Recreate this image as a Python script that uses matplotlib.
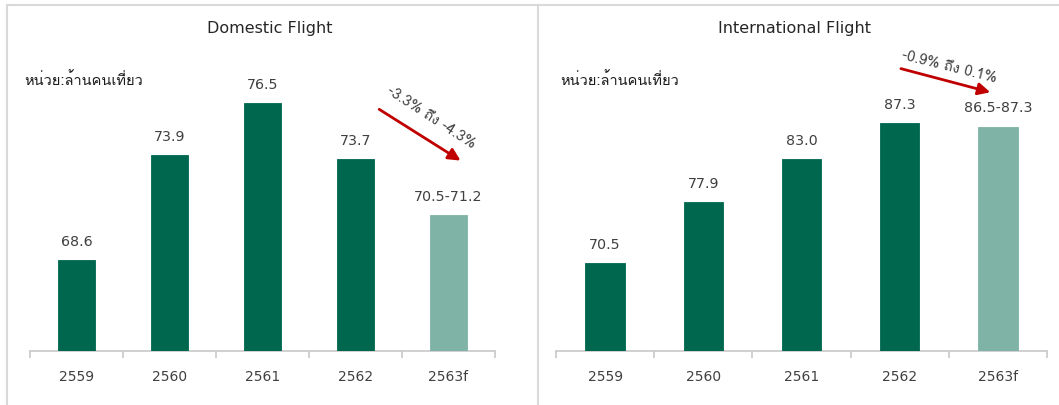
import matplotlib
matplotlib.use("Agg")
import matplotlib.pyplot as plt
from matplotlib import font_manager
from matplotlib.ft2font import FT2Font
from matplotlib.lines import Line2D

# ==========================================
# DATA
# ==========================================

years = ["2559", "2560", "2561", "2562", "2563f"]

domestic = [68.6, 73.9, 76.5, 73.7, 70.85]
domestic_labels = ["68.6", "73.9", "76.5", "73.7", "70.5-71.2"]

international = [70.5, 77.9, 83.0, 87.3, 86.9]
international_labels = ["70.5", "77.9", "83.0", "87.3", "86.5-87.3"]

dom_change = "-3.3% ถึง -4.3%"
int_change = "-0.9% ถึง 0.1%"
unit_text = "หน่วย:ล้านคนเที่ยว"

DARK = "#00674f"
LIGHT = "#7fb3a6"
RED = "#c00000"
TXT = "#404040"
GRID = "#c8c8c8"


# find a font that has thai glyphs
def thai_font():
    for f in font_manager.fontManager.ttflist:
        try:
            if ord("ห") in FT2Font(f.fname).get_charmap():
                return f.name
        except Exception:
            pass
    return "DejaVu Sans"


THAI = [thai_font(), "DejaVu Sans"]

W, H = 1059, 405
fig = plt.figure(figsize=(W / 100, H / 100), dpi=100)
fig.patch.set_facecolor("white")


def px_axes(x0, x1, y_bottom, y_top):
    return fig.add_axes([x0 / W, 1 - y_bottom / H, (x1 - x0) / W, (y_bottom - y_top) / H])


def draw_panel(ax, values, labels, ylim):
    colors = [DARK] * (len(values) - 1) + [LIGHT]
    x = range(len(values))
    bars = ax.bar(x, values, width=0.4, color=colors, edgecolor=colors, linewidth=0.6, zorder=3)
    for b, lab in zip(bars, labels):
        ax.annotate(lab, (b.get_x() + b.get_width() / 2, b.get_height()),
                    xytext=(0, 8), textcoords="offset points",
                    ha="center", va="bottom", fontsize=10.3, color=TXT,
                    family="DejaVu Sans")
    ax.set_ylim(*ylim)
    ax.set_xlim(-0.5, len(values) - 0.5)
    ax.set_yticks([])
    for s in ["top", "right", "left"]:
        ax.spines[s].set_visible(False)
    ax.spines["bottom"].set_color(GRID)
    ax.spines["bottom"].set_linewidth(1.2)
    ax.set_xticks(list(x))
    ax.set_xticklabels(years, fontsize=10, color=TXT, family="DejaVu Sans")
    ax.tick_params(axis="x", which="major", length=0, pad=14)
    ax.set_xticks([i - 0.5 for i in range(len(values) + 1)], minor=True)
    ax.tick_params(axis="x", which="minor", length=5, color=GRID, width=1.2)
    ax.set_facecolor("none")


# ==========================================
# LEFT - DOMESTIC
# ==========================================

ax1 = px_axes(30, 495, 351, 34)
draw_panel(ax1, domestic, domestic_labels, (64, 80))

ax1.annotate("", xy=(0.931, 0.596), xytext=(0.746, 0.767),
             xycoords="axes fraction",
             arrowprops=dict(arrowstyle="-|>", color=RED, lw=2,
                             mutation_scale=18))
ax1.text(0.862, 0.735, dom_change, transform=ax1.transAxes,
         rotation=-33, ha="center", va="center", fontsize=10.5,
         color=TXT, family=THAI)

# ==========================================
# RIGHT - INTERNATIONAL
# ==========================================

ax2 = px_axes(556, 1047, 351, 34)
draw_panel(ax2, international, international_labels, (60, 98))

ax2.annotate("", xy=(0.890, 0.814), xytext=(0.697, 0.893),
             xycoords="axes fraction",
             arrowprops=dict(arrowstyle="-|>", color=RED, lw=2,
                             mutation_scale=18))
ax2.text(0.800, 0.895, int_change, transform=ax2.transAxes,
         rotation=-14, ha="center", va="center", fontsize=10.5,
         color=TXT, family=THAI)

# ==========================================
# TITLES / UNITS / FRAME
# ==========================================

fig.text(270 / W, 1 - 28 / H, "Domestic Flight", ha="center", va="center",
         fontsize=11.5, color="#262626", family="DejaVu Sans")
fig.text(795 / W, 1 - 28 / H, "International Flight", ha="center", va="center",
         fontsize=11.5, color="#262626", family="DejaVu Sans")

fig.text(24 / W, 1 - 80 / H, unit_text, ha="left", va="center",
         fontsize=10.5, color="#1a1a1a", family=THAI, fontweight="medium")
fig.text(560 / W, 1 - 80 / H, unit_text, ha="left", va="center",
         fontsize=10.5, color="#1a1a1a", family=THAI, fontweight="medium")

frame = "#d9d9d9"
fig.add_artist(Line2D([7 / W, 1], [1 - 5 / H, 1 - 5 / H], color=frame, lw=1.5))
fig.add_artist(Line2D([7 / W, 7 / W], [0, 1 - 5 / H], color=frame, lw=1.5))
fig.add_artist(Line2D([538 / W, 538 / W], [0, 1 - 5 / H], color=frame, lw=1.5))

fig.savefig("out.png", dpi=100, facecolor="white")
